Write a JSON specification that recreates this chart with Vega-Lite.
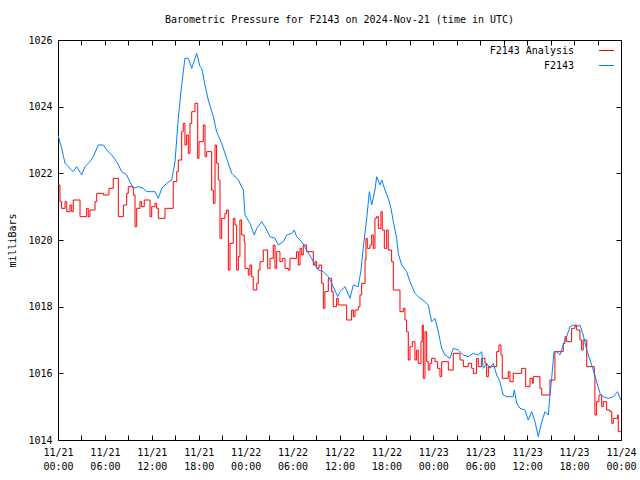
{
"$schema":"https://vega.github.io/schema/vega-lite/v6.json",
"width":563,"height":400,"autosize":"none",
"padding":{"left":58,"top":40,"right":19,"bottom":40},
"background":"white",
"title":{"text":"Barometric Pressure for F2143 on 2024-Nov-21 (time in UTC)","font":"DejaVu Sans Mono","fontSize":10,"fontWeight":"normal","color":"black","offset":10},
"config":{"view":{"stroke":"black","strokeWidth":1},
"axis":{"labelFont":"DejaVu Sans Mono","labelFontSize":10,"labelColor":"black","titleFont":"DejaVu Sans Mono","titleFontSize":10,"titleFontWeight":"normal","titleColor":"black","domain":false,"grid":false,"tickColor":"black","tickSize":-5,"labelOverlap":false,"labelFlush":false}},
"datasets":{
"ana":[
{"t":"2024-11-21T00:00:00Z","p":1021.65},{"t":"2024-11-21T00:15:00Z","p":1021.15},{"t":"2024-11-21T00:28:00Z","p":1020.95},{"t":"2024-11-21T00:54:00Z","p":1021.15},{"t":"2024-11-21T01:07:00Z","p":1020.85},{"t":"2024-11-21T01:32:00Z","p":1021.05},{"t":"2024-11-21T01:45:00Z","p":1020.85},{"t":"2024-11-21T01:57:00Z","p":1021.2},{"t":"2024-11-21T02:49:00Z","p":1020.7},{"t":"2024-11-21T03:40:00Z","p":1020.95},{"t":"2024-11-21T03:52:00Z","p":1020.7},{"t":"2024-11-21T04:05:00Z","p":1020.9},{"t":"2024-11-21T04:44:00Z","p":1021.15},{"t":"2024-11-21T04:57:00Z","p":1021.4},{"t":"2024-11-21T05:48:00Z","p":1021.35},{"t":"2024-11-21T06:31:00Z","p":1021.55},{"t":"2024-11-21T07:04:00Z","p":1021.85},{"t":"2024-11-21T07:43:00Z","p":1020.7},{"t":"2024-11-21T08:22:00Z","p":1021.05},{"t":"2024-11-21T08:47:00Z","p":1021.4},{"t":"2024-11-21T08:59:00Z","p":1021.6},{"t":"2024-11-21T09:38:00Z","p":1021.35},{"t":"2024-11-21T09:51:00Z","p":1020.4},{"t":"2024-11-21T10:04:00Z","p":1020.95},{"t":"2024-11-21T10:29:00Z","p":1021.15},{"t":"2024-11-21T10:42:00Z","p":1021.0},{"t":"2024-11-21T11:02:00Z","p":1021.2},{"t":"2024-11-21T11:46:00Z","p":1020.7},{"t":"2024-11-21T11:59:00Z","p":1021.0},{"t":"2024-11-21T12:24:00Z","p":1021.1},{"t":"2024-11-21T12:37:00Z","p":1020.95},{"t":"2024-11-21T12:50:00Z","p":1020.65},{"t":"2024-11-21T13:41:00Z","p":1020.95},{"t":"2024-11-21T14:44:00Z","p":1021.75},{"t":"2024-11-21T15:11:00Z","p":1022.05},{"t":"2024-11-21T15:23:00Z","p":1022.4},{"t":"2024-11-21T15:49:00Z","p":1023.25},{"t":"2024-11-21T16:01:00Z","p":1023.5},{"t":"2024-11-21T16:14:00Z","p":1022.85},{"t":"2024-11-21T16:27:00Z","p":1023.15},{"t":"2024-11-21T16:40:00Z","p":1022.6},{"t":"2024-11-21T16:53:00Z","p":1023.5},{"t":"2024-11-21T17:06:00Z","p":1023.85},{"t":"2024-11-21T17:31:00Z","p":1024.1},{"t":"2024-11-21T17:52:00Z","p":1022.45},{"t":"2024-11-21T18:02:00Z","p":1022.95},{"t":"2024-11-21T18:35:00Z","p":1023.45},{"t":"2024-11-21T18:48:00Z","p":1022.5},{"t":"2024-11-21T19:01:00Z","p":1022.65},{"t":"2024-11-21T19:39:00Z","p":1021.5},{"t":"2024-11-21T19:52:00Z","p":1021.1},{"t":"2024-11-21T20:05:00Z","p":1022.85},{"t":"2024-11-21T20:17:00Z","p":1022.3},{"t":"2024-11-21T20:30:00Z","p":1021.8},{"t":"2024-11-21T20:43:00Z","p":1020.05},{"t":"2024-11-21T20:56:00Z","p":1020.65},{"t":"2024-11-21T21:21:00Z","p":1020.8},{"t":"2024-11-21T21:34:00Z","p":1020.9},{"t":"2024-11-21T21:47:00Z","p":1019.1},{"t":"2024-11-21T22:00:00Z","p":1019.9},{"t":"2024-11-21T22:25:00Z","p":1020.65},{"t":"2024-11-21T22:38:00Z","p":1020.45},{"t":"2024-11-21T22:51:00Z","p":1019.1},{"t":"2024-11-21T23:04:00Z","p":1019.5},{"t":"2024-11-21T23:16:00Z","p":1020.6},{"t":"2024-11-21T23:29:00Z","p":1020.15},{"t":"2024-11-21T23:49:00Z","p":1019.95},{"t":"2024-11-21T23:55:00Z","p":1019.15},
{"t":"2024-11-22T00:20:00Z","p":1018.95},{"t":"2024-11-22T00:33:00Z","p":1019.25},{"t":"2024-11-22T00:46:00Z","p":1018.9},{"t":"2024-11-22T00:58:00Z","p":1018.5},{"t":"2024-11-22T01:25:00Z","p":1018.7},{"t":"2024-11-22T01:37:00Z","p":1019.1},{"t":"2024-11-22T01:50:00Z","p":1019.35},{"t":"2024-11-22T02:15:00Z","p":1019.7},{"t":"2024-11-22T02:49:00Z","p":1019.15},{"t":"2024-11-22T03:07:00Z","p":1019.45},{"t":"2024-11-22T03:32:00Z","p":1019.85},{"t":"2024-11-22T03:45:00Z","p":1019.15},{"t":"2024-11-22T03:58:00Z","p":1019.65},{"t":"2024-11-22T04:23:00Z","p":1019.35},{"t":"2024-11-22T04:41:00Z","p":1019.45},{"t":"2024-11-22T05:02:00Z","p":1019.15},{"t":"2024-11-22T05:27:00Z","p":1019.1},{"t":"2024-11-22T05:40:00Z","p":1019.45},{"t":"2024-11-22T06:31:00Z","p":1019.65},{"t":"2024-11-22T06:44:00Z","p":1019.25},{"t":"2024-11-22T06:57:00Z","p":1019.75},{"t":"2024-11-22T07:10:00Z","p":1019.55},{"t":"2024-11-22T07:22:00Z","p":1019.85},{"t":"2024-11-22T07:48:00Z","p":1019.65},{"t":"2024-11-22T08:39:00Z","p":1019.25},{"t":"2024-11-22T08:52:00Z","p":1019.35},{"t":"2024-11-22T09:05:00Z","p":1019.15},{"t":"2024-11-22T09:23:00Z","p":1019.25},{"t":"2024-11-22T09:43:00Z","p":1018.7},{"t":"2024-11-22T09:56:00Z","p":1017.95},{"t":"2024-11-22T10:08:00Z","p":1018.45},{"t":"2024-11-22T10:34:00Z","p":1018.85},{"t":"2024-11-22T11:00:00Z","p":1018.45},{"t":"2024-11-22T11:12:00Z","p":1018.0},{"t":"2024-11-22T11:38:00Z","p":1018.25},{"t":"2024-11-22T11:50:00Z","p":1018.05},{"t":"2024-11-22T12:55:00Z","p":1017.6},{"t":"2024-11-22T13:33:00Z","p":1017.9},{"t":"2024-11-22T13:46:00Z","p":1017.7},{"t":"2024-11-22T13:59:00Z","p":1017.9},{"t":"2024-11-22T14:24:00Z","p":1018.0},{"t":"2024-11-22T14:37:00Z","p":1018.35},{"t":"2024-11-22T14:50:00Z","p":1018.7},{"t":"2024-11-22T15:16:00Z","p":1019.4},{"t":"2024-11-22T15:23:00Z","p":1020.05},{"t":"2024-11-22T15:33:00Z","p":1019.75},{"t":"2024-11-22T15:54:00Z","p":1019.85},{"t":"2024-11-22T16:07:00Z","p":1020.15},{"t":"2024-11-22T16:19:00Z","p":1019.75},{"t":"2024-11-22T16:32:00Z","p":1020.65},{"t":"2024-11-22T16:45:00Z","p":1020.7},{"t":"2024-11-22T16:58:00Z","p":1020.35},{"t":"2024-11-22T17:18:00Z","p":1020.85},{"t":"2024-11-22T17:28:00Z","p":1020.3},{"t":"2024-11-22T17:44:00Z","p":1019.75},{"t":"2024-11-22T18:02:00Z","p":1020.3},{"t":"2024-11-22T18:14:00Z","p":1019.7},{"t":"2024-11-22T18:40:00Z","p":1019.35},{"t":"2024-11-22T18:53:00Z","p":1018.5},{"t":"2024-11-22T19:44:00Z","p":1017.85},{"t":"2024-11-22T20:10:00Z","p":1017.95},{"t":"2024-11-22T20:22:00Z","p":1017.6},{"t":"2024-11-22T20:35:00Z","p":1017.25},{"t":"2024-11-22T20:48:00Z","p":1016.4},{"t":"2024-11-22T21:01:00Z","p":1016.8},{"t":"2024-11-22T21:19:00Z","p":1016.95},{"t":"2024-11-22T21:39:00Z","p":1016.4},{"t":"2024-11-22T21:52:00Z","p":1016.7},{"t":"2024-11-22T22:04:00Z","p":1016.3},{"t":"2024-11-22T22:25:00Z","p":1016.95},{"t":"2024-11-22T22:35:00Z","p":1017.45},{"t":"2024-11-22T22:43:00Z","p":1015.85},{"t":"2024-11-22T22:56:00Z","p":1017.25},{"t":"2024-11-22T23:09:00Z","p":1016.35},{"t":"2024-11-22T23:21:00Z","p":1016.1},{"t":"2024-11-22T23:34:00Z","p":1016.3},{"t":"2024-11-22T23:47:00Z","p":1016.45},
{"t":"2024-11-23T00:13:00Z","p":1016.35},{"t":"2024-11-23T00:33:00Z","p":1016.15},{"t":"2024-11-23T00:51:00Z","p":1015.9},{"t":"2024-11-23T01:04:00Z","p":1016.35},{"t":"2024-11-23T01:55:00Z","p":1016.1},{"t":"2024-11-23T02:33:00Z","p":1016.6},{"t":"2024-11-23T03:25:00Z","p":1016.4},{"t":"2024-11-23T03:50:00Z","p":1016.2},{"t":"2024-11-23T04:28:00Z","p":1016.3},{"t":"2024-11-23T04:54:00Z","p":1016.15},{"t":"2024-11-23T05:07:00Z","p":1016.0},{"t":"2024-11-23T05:32:00Z","p":1016.45},{"t":"2024-11-23T05:45:00Z","p":1016.2},{"t":"2024-11-23T06:11:00Z","p":1016.45},{"t":"2024-11-23T06:36:00Z","p":1016.3},{"t":"2024-11-23T06:49:00Z","p":1015.9},{"t":"2024-11-23T07:02:00Z","p":1016.2},{"t":"2024-11-23T08:06:00Z","p":1016.65},{"t":"2024-11-23T08:23:00Z","p":1016.85},{"t":"2024-11-23T08:39:00Z","p":1016.55},{"t":"2024-11-23T08:49:00Z","p":1015.85},{"t":"2024-11-23T09:35:00Z","p":1016.05},{"t":"2024-11-23T09:48:00Z","p":1015.75},{"t":"2024-11-23T10:13:00Z","p":1016.0},{"t":"2024-11-23T11:18:00Z","p":1016.15},{"t":"2024-11-23T11:49:00Z","p":1015.6},{"t":"2024-11-23T12:22:00Z","p":1015.85},{"t":"2024-11-23T12:39:00Z","p":1015.7},{"t":"2024-11-23T12:47:00Z","p":1015.9},{"t":"2024-11-23T13:38:00Z","p":1015.55},{"t":"2024-11-23T13:52:00Z","p":1015.35},{"t":"2024-11-23T14:55:00Z","p":1015.8},{"t":"2024-11-23T15:33:00Z","p":1016.65},{"t":"2024-11-23T16:37:00Z","p":1016.9},{"t":"2024-11-23T16:50:00Z","p":1017.1},{"t":"2024-11-23T17:03:00Z","p":1016.95},{"t":"2024-11-23T17:41:00Z","p":1017.35},{"t":"2024-11-23T18:07:00Z","p":1017.45},{"t":"2024-11-23T18:20:00Z","p":1017.3},{"t":"2024-11-23T18:45:00Z","p":1017.0},{"t":"2024-11-23T18:58:00Z","p":1016.7},{"t":"2024-11-23T19:10:00Z","p":1017.0},{"t":"2024-11-23T19:37:00Z","p":1016.2},{"t":"2024-11-23T20:35:00Z","p":1015.95},{"t":"2024-11-23T20:40:00Z","p":1014.75},{"t":"2024-11-23T20:53:00Z","p":1015.15},{"t":"2024-11-23T21:11:00Z","p":1015.35},{"t":"2024-11-23T21:32:00Z","p":1015.0},{"t":"2024-11-23T21:44:00Z","p":1015.15},{"t":"2024-11-23T22:10:00Z","p":1014.9},{"t":"2024-11-23T22:35:00Z","p":1014.85},{"t":"2024-11-23T22:49:00Z","p":1014.5},{"t":"2024-11-23T23:01:00Z","p":1014.65},{"t":"2024-11-23T23:34:00Z","p":1014.75},{"t":"2024-11-23T23:39:00Z","p":1014.25},{"t":"2024-11-24T00:00:00Z","p":1014.25}
],
"obs":[
{"t":"2024-11-21T00:00:00Z","p":1023.15},{"t":"2024-11-21T00:28:00Z","p":1022.75},{"t":"2024-11-21T00:54:00Z","p":1022.3},{"t":"2024-11-21T01:19:00Z","p":1022.2},{"t":"2024-11-21T01:57:00Z","p":1022.05},{"t":"2024-11-21T02:23:00Z","p":1022.2},{"t":"2024-11-21T03:02:00Z","p":1021.95},{"t":"2024-11-21T03:27:00Z","p":1022.2},{"t":"2024-11-21T04:05:00Z","p":1022.35},{"t":"2024-11-21T04:31:00Z","p":1022.5},{"t":"2024-11-21T05:09:00Z","p":1022.85},{"t":"2024-11-21T05:48:00Z","p":1022.85},{"t":"2024-11-21T06:14:00Z","p":1022.7},{"t":"2024-11-21T06:52:00Z","p":1022.55},{"t":"2024-11-21T07:30:00Z","p":1022.35},{"t":"2024-11-21T08:09:00Z","p":1022.05},{"t":"2024-11-21T08:47:00Z","p":1021.95},{"t":"2024-11-21T09:12:00Z","p":1021.75},{"t":"2024-11-21T09:38:00Z","p":1021.55},{"t":"2024-11-21T10:16:00Z","p":1021.6},{"t":"2024-11-21T10:54:00Z","p":1021.55},{"t":"2024-11-21T11:21:00Z","p":1021.45},{"t":"2024-11-21T12:24:00Z","p":1021.45},{"t":"2024-11-21T12:50:00Z","p":1021.25},{"t":"2024-11-21T13:16:00Z","p":1021.55},{"t":"2024-11-21T13:54:00Z","p":1021.7},{"t":"2024-11-21T14:32:00Z","p":1021.8},{"t":"2024-11-21T14:58:00Z","p":1022.35},{"t":"2024-11-21T15:23:00Z","p":1023.65},{"t":"2024-11-21T15:49:00Z","p":1024.65},{"t":"2024-11-21T16:14:00Z","p":1025.45},{"t":"2024-11-21T16:40:00Z","p":1025.45},{"t":"2024-11-21T17:06:00Z","p":1025.15},{"t":"2024-11-21T17:44:00Z","p":1025.6},{"t":"2024-11-21T18:10:00Z","p":1025.2},{"t":"2024-11-21T18:23:00Z","p":1025.15},{"t":"2024-11-21T18:48:00Z","p":1024.65},{"t":"2024-11-21T19:13:00Z","p":1024.2},{"t":"2024-11-21T19:52:00Z","p":1023.7},{"t":"2024-11-21T20:17:00Z","p":1023.25},{"t":"2024-11-21T20:56:00Z","p":1022.9},{"t":"2024-11-21T21:34:00Z","p":1022.45},{"t":"2024-11-21T22:13:00Z","p":1022.0},{"t":"2024-11-21T23:04:00Z","p":1021.8},{"t":"2024-11-21T23:42:00Z","p":1021.5},{"t":"2024-11-21T23:55:00Z","p":1020.75},
{"t":"2024-11-22T00:33:00Z","p":1020.5},{"t":"2024-11-22T01:06:00Z","p":1020.15},{"t":"2024-11-22T01:25:00Z","p":1020.35},{"t":"2024-11-22T02:03:00Z","p":1020.55},{"t":"2024-11-22T02:28:00Z","p":1020.4},{"t":"2024-11-22T03:07:00Z","p":1020.1},{"t":"2024-11-22T03:45:00Z","p":1020.05},{"t":"2024-11-22T04:10:00Z","p":1019.85},{"t":"2024-11-22T04:49:00Z","p":1019.95},{"t":"2024-11-22T05:15:00Z","p":1020.15},{"t":"2024-11-22T05:53:00Z","p":1020.2},{"t":"2024-11-22T06:13:00Z","p":1020.3},{"t":"2024-11-22T06:31:00Z","p":1020.1},{"t":"2024-11-22T07:10:00Z","p":1019.95},{"t":"2024-11-22T07:48:00Z","p":1019.7},{"t":"2024-11-22T08:26:00Z","p":1019.45},{"t":"2024-11-22T08:52:00Z","p":1019.25},{"t":"2024-11-22T09:17:00Z","p":1019.1},{"t":"2024-11-22T09:56:00Z","p":1019.05},{"t":"2024-11-22T10:34:00Z","p":1018.9},{"t":"2024-11-22T11:12:00Z","p":1018.6},{"t":"2024-11-22T11:46:00Z","p":1018.3},{"t":"2024-11-22T12:04:00Z","p":1018.45},{"t":"2024-11-22T12:17:00Z","p":1018.5},{"t":"2024-11-22T12:42:00Z","p":1018.6},{"t":"2024-11-22T13:20:00Z","p":1018.25},{"t":"2024-11-22T13:46:00Z","p":1018.65},{"t":"2024-11-22T14:24:00Z","p":1018.6},{"t":"2024-11-22T14:45:00Z","p":1019.1},{"t":"2024-11-22T15:02:00Z","p":1019.75},{"t":"2024-11-22T15:29:00Z","p":1020.65},{"t":"2024-11-22T15:49:00Z","p":1021.45},{"t":"2024-11-22T16:07:00Z","p":1021.05},{"t":"2024-11-22T16:32:00Z","p":1021.5},{"t":"2024-11-22T16:45:00Z","p":1021.9},{"t":"2024-11-22T17:11:00Z","p":1021.65},{"t":"2024-11-22T17:24:00Z","p":1021.8},{"t":"2024-11-22T17:49:00Z","p":1021.5},{"t":"2024-11-22T18:14:00Z","p":1021.25},{"t":"2024-11-22T18:35:00Z","p":1020.95},{"t":"2024-11-22T18:53:00Z","p":1020.55},{"t":"2024-11-22T19:19:00Z","p":1020.05},{"t":"2024-11-22T19:31:00Z","p":1019.6},{"t":"2024-11-22T19:57:00Z","p":1019.25},{"t":"2024-11-22T20:35:00Z","p":1019.05},{"t":"2024-11-22T21:01:00Z","p":1018.75},{"t":"2024-11-22T21:39:00Z","p":1018.4},{"t":"2024-11-22T22:18:00Z","p":1018.25},{"t":"2024-11-22T22:56:00Z","p":1018.15},{"t":"2024-11-22T23:21:00Z","p":1018.05},{"t":"2024-11-22T23:47:00Z","p":1017.55},
{"t":"2024-11-23T00:13:00Z","p":1017.65},{"t":"2024-11-23T00:38:00Z","p":1017.25},{"t":"2024-11-23T01:04:00Z","p":1016.75},{"t":"2024-11-23T01:29:00Z","p":1016.55},{"t":"2024-11-23T02:08:00Z","p":1016.45},{"t":"2024-11-23T02:33:00Z","p":1016.75},{"t":"2024-11-23T03:11:00Z","p":1016.7},{"t":"2024-11-23T03:50:00Z","p":1016.55},{"t":"2024-11-23T04:28:00Z","p":1016.5},{"t":"2024-11-23T05:07:00Z","p":1016.6},{"t":"2024-11-23T05:45:00Z","p":1016.55},{"t":"2024-11-23T06:11:00Z","p":1016.65},{"t":"2024-11-23T06:23:00Z","p":1016.15},{"t":"2024-11-23T06:49:00Z","p":1016.3},{"t":"2024-11-23T07:14:00Z","p":1016.15},{"t":"2024-11-23T07:40:00Z","p":1016.3},{"t":"2024-11-23T08:06:00Z","p":1015.95},{"t":"2024-11-23T08:31:00Z","p":1015.75},{"t":"2024-11-23T08:56:00Z","p":1015.35},{"t":"2024-11-23T09:23:00Z","p":1015.3},{"t":"2024-11-23T10:13:00Z","p":1015.3},{"t":"2024-11-23T10:21:00Z","p":1015.5},{"t":"2024-11-23T10:40:00Z","p":1015.1},{"t":"2024-11-23T11:05:00Z","p":1014.95},{"t":"2024-11-23T11:43:00Z","p":1014.9},{"t":"2024-11-23T12:08:00Z","p":1014.6},{"t":"2024-11-23T12:35:00Z","p":1014.85},{"t":"2024-11-23T13:00:00Z","p":1014.55},{"t":"2024-11-23T13:25:00Z","p":1014.1},{"t":"2024-11-23T13:52:00Z","p":1014.55},{"t":"2024-11-23T14:17:00Z","p":1014.85},{"t":"2024-11-23T14:42:00Z","p":1014.75},{"t":"2024-11-23T14:55:00Z","p":1015.35},{"t":"2024-11-23T15:08:00Z","p":1015.85},{"t":"2024-11-23T15:26:00Z","p":1016.65},{"t":"2024-11-23T15:46:00Z","p":1016.65},{"t":"2024-11-23T16:11:00Z","p":1016.55},{"t":"2024-11-23T16:37:00Z","p":1016.85},{"t":"2024-11-23T17:03:00Z","p":1017.1},{"t":"2024-11-23T17:28:00Z","p":1017.4},{"t":"2024-11-23T17:54:00Z","p":1017.45},{"t":"2024-11-23T18:20:00Z","p":1017.4},{"t":"2024-11-23T18:45:00Z","p":1017.45},{"t":"2024-11-23T19:10:00Z","p":1017.15},{"t":"2024-11-23T19:37:00Z","p":1016.7},{"t":"2024-11-23T20:02:00Z","p":1016.4},{"t":"2024-11-23T20:27:00Z","p":1016.1},{"t":"2024-11-23T20:53:00Z","p":1015.75},{"t":"2024-11-23T21:19:00Z","p":1015.4},{"t":"2024-11-23T21:44:00Z","p":1015.3},{"t":"2024-11-23T22:22:00Z","p":1015.25},{"t":"2024-11-23T23:01:00Z","p":1015.3},{"t":"2024-11-23T23:34:00Z","p":1015.45},{"t":"2024-11-23T23:58:00Z","p":1015.2}
]},
"layer":[
{"data":{"name":"ana"},
 "mark":{"type":"line","interpolate":"step-after","strokeWidth":1},
 "encoding":{
  "x":{"field":"t","type":"temporal","scale":{"type":"utc","domain":[1732147200000,1732406400000]},
       "axis":{"orient":"bottom","title":null,"values":[1732147200000,1732158000000,1732168800000,1732179600000,1732190400000,1732201200000,1732212000000,1732222800000,1732233600000,1732244400000,1732255200000,1732266000000,1732276800000,1732287600000,1732298400000,1732309200000,1732320000000,1732330800000,1732341600000,1732352400000,1732363200000,1732374000000,1732384800000,1732395600000,1732406400000],
               "labelPadding":12,"labelLineHeight":14,"labelAlign":"center","labelBaseline":"top",
               "labelExpr":"utchours(datum.value) % 6 == 0 ? [utcFormat(datum.value, '%m/%d'), utcFormat(datum.value, '%H:%M')] : ''"}},
  "y":{"field":"p","type":"quantitative","scale":{"domain":[1014,1026],"nice":false,"zero":false},
       "axis":{"orient":"left","title":"milliBars","format":"d","values":[1014,1016,1018,1020,1022,1024,1026],"labelPadding":11,"titlePadding":10}},
  "color":{"datum":"F2143 Analysis","type":"nominal","scale":{"domain":["F2143 Analysis","F2143"],"range":["#ff0000","#0080ff"]},
           "legend":{"orient":"top-right","title":null,"symbolType":"M-1.5,0H1.5","symbolSize":100,"symbolStrokeWidth":1,"symbolOffset":26,"labelAlign":"right","labelOffset":-38,"labelFont":"DejaVu Sans Mono","labelFontSize":10,"labelColor":"black","rowPadding":4,"padding":0,"offset":5}}}},
{"data":{"name":"obs"},
 "mark":{"type":"line","interpolate":"linear","strokeWidth":1},
 "encoding":{
  "x":{"field":"t","type":"temporal","scale":{"type":"utc","domain":[1732147200000,1732406400000]},
       "axis":{"orient":"top","title":null,"labels":false,"values":[1732147200000,1732158000000,1732168800000,1732179600000,1732190400000,1732201200000,1732212000000,1732222800000,1732233600000,1732244400000,1732255200000,1732266000000,1732276800000,1732287600000,1732298400000,1732309200000,1732320000000,1732330800000,1732341600000,1732352400000,1732363200000,1732374000000,1732384800000,1732395600000,1732406400000]}},
  "y":{"field":"p","type":"quantitative","scale":{"domain":[1014,1026],"nice":false,"zero":false},
       "axis":{"orient":"right","title":null,"labels":false,"values":[1014,1016,1018,1020,1022,1024,1026]}},
  "color":{"datum":"F2143","type":"nominal","scale":{"domain":["F2143 Analysis","F2143"],"range":["#ff0000","#0080ff"]}}}}
],
"resolve":{"scale":{"x":"independent","y":"independent"},"axis":{"x":"independent","y":"independent"}}
}
